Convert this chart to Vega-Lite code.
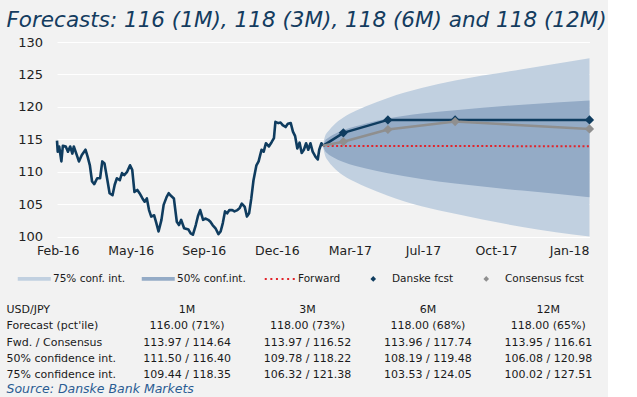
{
  "$schema": "https://vega.github.io/schema/vega-lite/v6.json",
  "background": "#f2f2f2",
  "padding": {"left": 6, "top": 9, "right": 0, "bottom": 2},
  "title": {
    "text": "Forecasts: 116 (1M), 118 (3M), 118 (6M) and 118 (12M)",
    "anchor": "start",
    "frame": "bounds",
    "font": "DejaVu Sans",
    "fontSize": 21.5,
    "fontStyle": "italic",
    "fontWeight": "normal",
    "color": "#143c5f",
    "offset": 5
  },
  "spacing": 44,
  "datasets": {
    "hist": [
      {"date": "2016-02-16", "value": 114.8}, {"date": "2016-02-17", "value": 113.1}, {"date": "2016-02-19", "value": 113.9},
      {"date": "2016-02-22", "value": 111.6}, {"date": "2016-02-24", "value": 114.0}, {"date": "2016-02-28", "value": 113.9},
      {"date": "2016-03-02", "value": 113.1}, {"date": "2016-03-05", "value": 113.9}, {"date": "2016-03-08", "value": 112.8},
      {"date": "2016-03-10", "value": 113.9}, {"date": "2016-03-14", "value": 112.6}, {"date": "2016-03-17", "value": 111.6},
      {"date": "2016-03-21", "value": 112.6}, {"date": "2016-03-26", "value": 113.4}, {"date": "2016-03-29", "value": 112.3},
      {"date": "2016-04-01", "value": 111.0}, {"date": "2016-04-04", "value": 108.5}, {"date": "2016-04-07", "value": 108.1},
      {"date": "2016-04-11", "value": 109.0}, {"date": "2016-04-15", "value": 109.0}, {"date": "2016-04-18", "value": 111.6},
      {"date": "2016-04-21", "value": 111.3}, {"date": "2016-04-25", "value": 108.7}, {"date": "2016-04-28", "value": 106.7},
      {"date": "2016-05-02", "value": 106.4}, {"date": "2016-05-05", "value": 108.0}, {"date": "2016-05-08", "value": 109.0},
      {"date": "2016-05-12", "value": 108.7}, {"date": "2016-05-15", "value": 109.8}, {"date": "2016-05-18", "value": 109.5},
      {"date": "2016-05-22", "value": 110.0}, {"date": "2016-05-26", "value": 111.0}, {"date": "2016-05-29", "value": 110.3},
      {"date": "2016-06-01", "value": 106.9}, {"date": "2016-06-05", "value": 107.2}, {"date": "2016-06-08", "value": 106.7},
      {"date": "2016-06-12", "value": 105.9}, {"date": "2016-06-15", "value": 105.4}, {"date": "2016-06-18", "value": 105.9},
      {"date": "2016-06-21", "value": 104.1}, {"date": "2016-06-24", "value": 103.1}, {"date": "2016-06-28", "value": 103.3},
      {"date": "2016-07-01", "value": 102.1}, {"date": "2016-07-04", "value": 100.8}, {"date": "2016-07-08", "value": 102.6},
      {"date": "2016-07-11", "value": 104.9}, {"date": "2016-07-15", "value": 106.1}, {"date": "2016-07-18", "value": 106.7},
      {"date": "2016-07-21", "value": 106.3}, {"date": "2016-07-25", "value": 105.9}, {"date": "2016-07-29", "value": 102.3},
      {"date": "2016-08-01", "value": 101.8}, {"date": "2016-08-04", "value": 102.6}, {"date": "2016-08-08", "value": 101.3},
      {"date": "2016-08-14", "value": 101.1}, {"date": "2016-08-17", "value": 100.5}, {"date": "2016-08-20", "value": 100.3},
      {"date": "2016-08-24", "value": 101.8}, {"date": "2016-08-27", "value": 103.2}, {"date": "2016-08-30", "value": 104.1},
      {"date": "2016-09-03", "value": 102.6}, {"date": "2016-09-06", "value": 102.8}, {"date": "2016-09-10", "value": 102.6},
      {"date": "2016-09-13", "value": 102.3}, {"date": "2016-09-16", "value": 101.8}, {"date": "2016-09-20", "value": 101.3},
      {"date": "2016-09-24", "value": 100.4}, {"date": "2016-09-27", "value": 100.8}, {"date": "2016-09-30", "value": 102.1},
      {"date": "2016-10-03", "value": 103.9}, {"date": "2016-10-06", "value": 103.6}, {"date": "2016-10-09", "value": 104.1},
      {"date": "2016-10-13", "value": 104.1}, {"date": "2016-10-16", "value": 103.9}, {"date": "2016-10-20", "value": 104.1},
      {"date": "2016-10-23", "value": 104.4}, {"date": "2016-10-26", "value": 105.1}, {"date": "2016-10-30", "value": 104.6},
      {"date": "2016-11-02", "value": 103.1}, {"date": "2016-11-05", "value": 103.6}, {"date": "2016-11-08", "value": 105.9},
      {"date": "2016-11-11", "value": 108.7}, {"date": "2016-11-15", "value": 111.0}, {"date": "2016-11-18", "value": 111.6},
      {"date": "2016-11-22", "value": 113.4}, {"date": "2016-11-25", "value": 113.1}, {"date": "2016-11-28", "value": 114.4},
      {"date": "2016-12-02", "value": 113.9}, {"date": "2016-12-06", "value": 114.6}, {"date": "2016-12-09", "value": 115.2},
      {"date": "2016-12-11", "value": 117.7}, {"date": "2016-12-15", "value": 117.5}, {"date": "2016-12-18", "value": 117.6},
      {"date": "2016-12-21", "value": 117.2}, {"date": "2016-12-25", "value": 116.9}, {"date": "2016-12-28", "value": 117.4},
      {"date": "2017-01-01", "value": 117.5}, {"date": "2017-01-04", "value": 116.2}, {"date": "2017-01-07", "value": 115.5},
      {"date": "2017-01-10", "value": 113.6}, {"date": "2017-01-13", "value": 114.5}, {"date": "2017-01-16", "value": 112.9},
      {"date": "2017-01-19", "value": 113.4}, {"date": "2017-01-22", "value": 114.4}, {"date": "2017-01-25", "value": 113.4},
      {"date": "2017-01-28", "value": 114.4}, {"date": "2017-01-31", "value": 113.1}, {"date": "2017-02-04", "value": 112.3},
      {"date": "2017-02-07", "value": 111.9}, {"date": "2017-02-09", "value": 113.4}, {"date": "2017-02-12", "value": 114.4},
      {"date": "2017-02-14", "value": 114.0}
    ],
    "bands": [
      {"date": "2017-02-14", "band": "75% conf. int.", "lo": 114.0, "hi": 114.0},
      {"date": "2017-02-17", "band": "75% conf. int.", "lo": 112.5, "hi": 115.5},
      {"date": "2017-02-21", "band": "75% conf. int.", "lo": 111.7, "hi": 116.2},
      {"date": "2017-02-28", "band": "75% conf. int.", "lo": 110.75, "hi": 117.1},
      {"date": "2017-03-14", "band": "75% conf. int.", "lo": 109.44, "hi": 118.35},
      {"date": "2017-03-31", "band": "75% conf. int.", "lo": 108.4, "hi": 119.4},
      {"date": "2017-04-14", "band": "75% conf. int.", "lo": 107.66, "hi": 120.1},
      {"date": "2017-05-14", "band": "75% conf. int.", "lo": 106.32, "hi": 121.38},
      {"date": "2017-06-29", "band": "75% conf. int.", "lo": 104.7, "hi": 122.9},
      {"date": "2017-08-14", "band": "75% conf. int.", "lo": 103.53, "hi": 124.05},
      {"date": "2017-11-14", "band": "75% conf. int.", "lo": 101.5, "hi": 125.8},
      {"date": "2018-02-14", "band": "75% conf. int.", "lo": 100.02, "hi": 127.51},
      {"date": "2017-02-14", "band": "50% conf.int.", "lo": 114.0, "hi": 114.0},
      {"date": "2017-02-17", "band": "50% conf.int.", "lo": 113.2, "hi": 114.8},
      {"date": "2017-02-21", "band": "50% conf.int.", "lo": 112.75, "hi": 115.2},
      {"date": "2017-02-28", "band": "50% conf.int.", "lo": 112.25, "hi": 115.7},
      {"date": "2017-03-14", "band": "50% conf.int.", "lo": 111.5, "hi": 116.4},
      {"date": "2017-03-31", "band": "50% conf.int.", "lo": 110.9, "hi": 117.0},
      {"date": "2017-04-14", "band": "50% conf.int.", "lo": 110.5, "hi": 117.45},
      {"date": "2017-05-14", "band": "50% conf.int.", "lo": 109.78, "hi": 118.22},
      {"date": "2017-06-29", "band": "50% conf.int.", "lo": 108.9, "hi": 119.0},
      {"date": "2017-08-14", "band": "50% conf.int.", "lo": 108.19, "hi": 119.48},
      {"date": "2017-11-14", "band": "50% conf.int.", "lo": 107.1, "hi": 120.35},
      {"date": "2018-02-14", "band": "50% conf.int.", "lo": 106.08, "hi": 120.98}
    ],
    "fcst": [
      {"date": "2017-02-14", "series": "Forward", "tenor": "Spot", "value": 113.97},
      {"date": "2017-03-14", "series": "Forward", "tenor": "1M", "value": 113.97},
      {"date": "2017-05-14", "series": "Forward", "tenor": "3M", "value": 113.97},
      {"date": "2017-08-14", "series": "Forward", "tenor": "6M", "value": 113.96},
      {"date": "2018-02-14", "series": "Forward", "tenor": "12M", "value": 113.95},
      {"date": "2017-02-14", "series": "Danske fcst", "tenor": "Spot", "value": 114.0},
      {"date": "2017-03-14", "series": "Danske fcst", "tenor": "1M", "value": 116.0},
      {"date": "2017-05-14", "series": "Danske fcst", "tenor": "3M", "value": 118.0},
      {"date": "2017-08-14", "series": "Danske fcst", "tenor": "6M", "value": 118.0},
      {"date": "2018-02-14", "series": "Danske fcst", "tenor": "12M", "value": 118.0},
      {"date": "2017-02-14", "series": "Consensus fcst", "tenor": "Spot", "value": 114.0},
      {"date": "2017-03-14", "series": "Consensus fcst", "tenor": "1M", "value": 114.64},
      {"date": "2017-05-14", "series": "Consensus fcst", "tenor": "3M", "value": 116.52},
      {"date": "2017-08-14", "series": "Consensus fcst", "tenor": "6M", "value": 117.74},
      {"date": "2018-02-14", "series": "Consensus fcst", "tenor": "12M", "value": 116.61}
    ],
    "table": [
      {"row": "USD/JPY", "col": "USD/JPY", "text": "USD/JPY"},
      {"row": "USD/JPY", "col": "1M", "text": "1M"},
      {"row": "USD/JPY", "col": "3M", "text": "3M"},
      {"row": "USD/JPY", "col": "6M", "text": "6M"},
      {"row": "USD/JPY", "col": "12M", "text": "12M"},
      {"row": "Forecast (pct'ile)", "col": "USD/JPY", "text": "Forecast (pct'ile)"},
      {"row": "Forecast (pct'ile)", "col": "1M", "text": "116.00 (71%)"},
      {"row": "Forecast (pct'ile)", "col": "3M", "text": "118.00 (73%)"},
      {"row": "Forecast (pct'ile)", "col": "6M", "text": "118.00 (68%)"},
      {"row": "Forecast (pct'ile)", "col": "12M", "text": "118.00 (65%)"},
      {"row": "Fwd. / Consensus", "col": "USD/JPY", "text": "Fwd. / Consensus"},
      {"row": "Fwd. / Consensus", "col": "1M", "text": "113.97 / 114.64"},
      {"row": "Fwd. / Consensus", "col": "3M", "text": "113.97 / 116.52"},
      {"row": "Fwd. / Consensus", "col": "6M", "text": "113.96 / 117.74"},
      {"row": "Fwd. / Consensus", "col": "12M", "text": "113.95 / 116.61"},
      {"row": "50% confidence int.", "col": "USD/JPY", "text": "50% confidence int."},
      {"row": "50% confidence int.", "col": "1M", "text": "111.50 / 116.40"},
      {"row": "50% confidence int.", "col": "3M", "text": "109.78 / 118.22"},
      {"row": "50% confidence int.", "col": "6M", "text": "108.19 / 119.48"},
      {"row": "50% confidence int.", "col": "12M", "text": "106.08 / 120.98"},
      {"row": "75% confidence int.", "col": "USD/JPY", "text": "75% confidence int."},
      {"row": "75% confidence int.", "col": "1M", "text": "109.44 / 118.35"},
      {"row": "75% confidence int.", "col": "3M", "text": "106.32 / 121.38"},
      {"row": "75% confidence int.", "col": "6M", "text": "103.53 / 124.05"},
      {"row": "75% confidence int.", "col": "12M", "text": "100.02 / 127.51"}
    ]
  },
  "vconcat": [
    {
      "width": 532.5,
      "height": 194.7,
      "encoding": {
        "x": {
          "field": "date",
          "type": "temporal",
          "scale": {
            "type": "utc",
            "domain": [
              {"year": 2016, "month": "feb", "date": 16, "utc": true},
              {"year": 2018, "month": "feb", "date": 14, "utc": true}
            ]
          },
          "axis": {
            "values": [
              {"year": 2016, "month": "feb", "date": 17, "utc": true},
              {"year": 2016, "month": "may", "date": 27, "utc": true},
              {"year": 2016, "month": "sep", "date": 4, "utc": true},
              {"year": 2016, "month": "dec", "date": 13, "utc": true},
              {"year": 2017, "month": "mar", "date": 23, "utc": true},
              {"year": 2017, "month": "jul", "date": 1, "utc": true},
              {"year": 2017, "month": "oct", "date": 9, "utc": true},
              {"year": 2018, "month": "jan", "date": 17, "utc": true}
            ],
            "format": "%b-%y",
            "title": null,
            "grid": false,
            "ticks": false,
            "domain": false,
            "labelPadding": 8,
            "labelFont": "DejaVu Sans",
            "labelFontSize": 12.5,
            "labelColor": "#222222",
            "labelOverlap": false,
            "labelFlush": false
          }
        }
      },
      "layer": [
        {
          "data": {"name": "bands"},
          "transform": [{"filter": "datum.band === '75% conf. int.'"}],
          "mark": {"type": "area", "opacity": 1, "interpolate": "monotone"},
          "encoding": {
            "y": {
              "field": "lo", "type": "quantitative",
              "scale": {"domain": [100, 130], "nice": false, "zero": false},
              "axis": {"values": [100, 105, 110, 115, 120, 125, 130], "title": null, "grid": true, "gridColor": "#ffffff", "gridWidth": 1, "ticks": false, "domain": false, "labelPadding": 14.5, "labelFont": "DejaVu Sans", "labelFontSize": 13, "labelColor": "#222222"}
            },
            "y2": {"field": "hi"},
            "color": {
              "field": "band",
              "type": "nominal",
              "scale": {
                "domain": ["75% conf. int.", "50% conf.int.", "Forward", "Danske fcst", "Consensus fcst"],
                "range": ["#c1d0e0", "#94abc6", "#e2242b", "#0f3c5f", "#8f8f8f"]
              },
              "legend": {
                "orient": "none",
                "legendX": -50.5,
                "legendY": 220.5,
                "direction": "horizontal",
                "columns": 5,
                "title": null,
                "padding": 11,
                "symbolSize": 100,
                "symbolStrokeWidth": 0,
                "symbolOpacity": 1,
                "labelOffset": 25,
                "columnPadding": 16,
                "labelFont": "DejaVu Sans",
                "labelFontSize": 10.5,
                "labelColor": "#1a1a1a",
                "labelLimit": 200,
                "encode": {
                  "symbols": {
                    "update": {
                      "shape": {"signal": "(datum.value === '75% conf. int.' || datum.value === '50% conf.int.') ? 'M-1,-0.38H5.6V0.38H-1Z' : (datum.value === 'Forward' ? 'M-0.6,-0.2h0.4v0.4h-0.4Z M0.52,-0.2h0.4v0.4h-0.4Z M1.64,-0.2h0.4v0.4h-0.4Z M2.76,-0.2h0.4v0.4h-0.4Z M3.88,-0.2h0.4v0.4h-0.4Z M5,-0.2h0.4v0.4h-0.4Z' : 'M2.3,-0.56L2.86,0L2.3,0.56L1.74,0Z')"},
                      "fill": {"scale": "color", "field": "value"},
                      "stroke": {"value": "transparent"},
                      "strokeWidth": {"value": 0},
                      "opacity": {"value": 1}
                    }
                  }
                }
              }
            }
          }
        },
        {
          "data": {"name": "bands"},
          "transform": [{"filter": "datum.band === '50% conf.int.'"}],
          "mark": {"type": "area", "opacity": 1, "interpolate": "monotone"},
          "encoding": {
            "y": {
              "field": "lo", "type": "quantitative",
              "scale": {"domain": [100, 130], "nice": false, "zero": false},
              "axis": {"values": [100, 105, 110, 115, 120, 125, 130], "title": null, "grid": true, "gridColor": "#ffffff", "gridWidth": 1, "ticks": false, "domain": false, "labelPadding": 14.5, "labelFont": "DejaVu Sans", "labelFontSize": 13, "labelColor": "#222222"}
            },
            "y2": {"field": "hi"},
            "color": {"field": "band", "type": "nominal"}
          }
        },
        {
          "data": {"name": "fcst"},
          "transform": [{"filter": "datum.series === 'Forward'"}],
          "mark": {"type": "line", "strokeWidth": 2, "strokeDash": [2, 2.4], "strokeCap": "butt"},
          "encoding": {
            "y": {
              "field": "value", "type": "quantitative",
              "scale": {"domain": [100, 130], "nice": false, "zero": false},
              "axis": {"values": [100, 105, 110, 115, 120, 125, 130], "title": null, "grid": true, "gridColor": "#ffffff", "gridWidth": 1, "ticks": false, "domain": false, "labelPadding": 14.5, "labelFont": "DejaVu Sans", "labelFontSize": 13, "labelColor": "#222222"}
            },
            "color": {"field": "series", "type": "nominal"}
          }
        },
        {
          "data": {"name": "hist"},
          "mark": {"type": "line", "color": "#0f3c5f", "strokeWidth": 2.6, "strokeJoin": "round"},
          "encoding": {
            "y": {
              "field": "value", "type": "quantitative",
              "scale": {"domain": [100, 130], "nice": false, "zero": false},
              "axis": {"values": [100, 105, 110, 115, 120, 125, 130], "title": null, "grid": true, "gridColor": "#ffffff", "gridWidth": 1, "ticks": false, "domain": false, "labelPadding": 14.5, "labelFont": "DejaVu Sans", "labelFontSize": 13, "labelColor": "#222222"}
            }
          }
        },
        {
          "data": {"name": "fcst"},
          "transform": [{"filter": "datum.series !== 'Forward'"}],
          "mark": {"type": "line", "strokeWidth": 2.5},
          "encoding": {
            "y": {
              "field": "value", "type": "quantitative",
              "scale": {"domain": [100, 130], "nice": false, "zero": false},
              "axis": {"values": [100, 105, 110, 115, 120, 125, 130], "title": null, "grid": true, "gridColor": "#ffffff", "gridWidth": 1, "ticks": false, "domain": false, "labelPadding": 14.5, "labelFont": "DejaVu Sans", "labelFontSize": 13, "labelColor": "#222222"}
            },
            "color": {"field": "series", "type": "nominal"}
          }
        },
        {
          "data": {"name": "fcst"},
          "transform": [{"filter": "datum.series !== 'Forward' && datum.tenor !== 'Spot'"}],
          "mark": {"type": "point", "shape": "diamond", "filled": true, "size": 85, "opacity": 1},
          "encoding": {
            "y": {
              "field": "value", "type": "quantitative",
              "scale": {"domain": [100, 130], "nice": false, "zero": false},
              "axis": {"values": [100, 105, 110, 115, 120, 125, 130], "title": null, "grid": true, "gridColor": "#ffffff", "gridWidth": 1, "ticks": false, "domain": false, "labelPadding": 14.5, "labelFont": "DejaVu Sans", "labelFontSize": 13, "labelColor": "#222222"}
            },
            "color": {"field": "series", "type": "nominal"}
          }
        },
        {
          "data": {"values": [{}]},
          "mark": {"type": "text", "text": "USD/JPY", "font": "DejaVu Sans", "fontWeight": "bold", "fontSize": 10, "color": "#333333", "baseline": "middle", "align": "center"},
          "encoding": {
            "x": {"datum": {"year": 2017, "month": "jan", "date": 17, "utc": true}, "type": "temporal"},
            "y": {
              "datum": 129.7, "type": "quantitative",
              "scale": {"domain": [100, 130], "nice": false, "zero": false},
              "axis": {"values": [100, 105, 110, 115, 120, 125, 130], "title": null, "grid": true, "gridColor": "#ffffff", "gridWidth": 1, "ticks": false, "domain": false, "labelPadding": 14.5, "labelFont": "DejaVu Sans", "labelFontSize": 13, "labelColor": "#222222"}
            }
          }
        }
      ]
    },
    {
      "width": 551,
      "height": 81.25,
      "data": {"name": "table"},
      "title": {
        "text": "Source: Danske Bank Markets",
        "orient": "bottom",
        "anchor": "start",
        "font": "DejaVu Sans",
        "fontSize": 12.5,
        "fontStyle": "italic",
        "fontWeight": "normal",
        "color": "#2a5c93",
        "offset": 0
      },
      "encoding": {
        "y": {
          "field": "row",
          "type": "nominal",
          "scale": {
            "type": "band",
            "domain": ["USD/JPY", "Forecast (pct'ile)", "Fwd. / Consensus", "50% confidence int.", "75% confidence int."],
            "paddingInner": 0,
            "paddingOuter": 0
          },
          "axis": null
        },
        "text": {"field": "text", "type": "nominal"}
      },
      "layer": [
        {
          "transform": [{"filter": "datum.col === 'USD/JPY'"}],
          "mark": {"type": "text", "align": "left", "baseline": "middle", "font": "DejaVu Sans", "fontSize": 11, "color": "#1a1a1a"},
          "encoding": {
            "x": {
              "field": "col",
              "type": "nominal",
              "bandPosition": 0,
              "scale": {"type": "band", "domain": ["USD/JPY", "1M", "3M", "6M", "12M"], "range": [-50.5, 551.5], "paddingInner": 0, "paddingOuter": 0},
              "axis": null
            }
          }
        },
        {
          "transform": [{"filter": "datum.col !== 'USD/JPY'"}],
          "mark": {"type": "text", "align": "center", "baseline": "middle", "font": "DejaVu Sans", "fontSize": 11, "color": "#1a1a1a"},
          "encoding": {
            "x": {
              "field": "col",
              "type": "nominal",
              "scale": {"type": "band", "domain": ["USD/JPY", "1M", "3M", "6M", "12M"], "range": [-50.5, 551.5], "paddingInner": 0, "paddingOuter": 0},
              "axis": null
            }
          }
        }
      ]
    }
  ],
  "config": {
    "view": {"stroke": null},
    "font": "DejaVu Sans"
  }
}
